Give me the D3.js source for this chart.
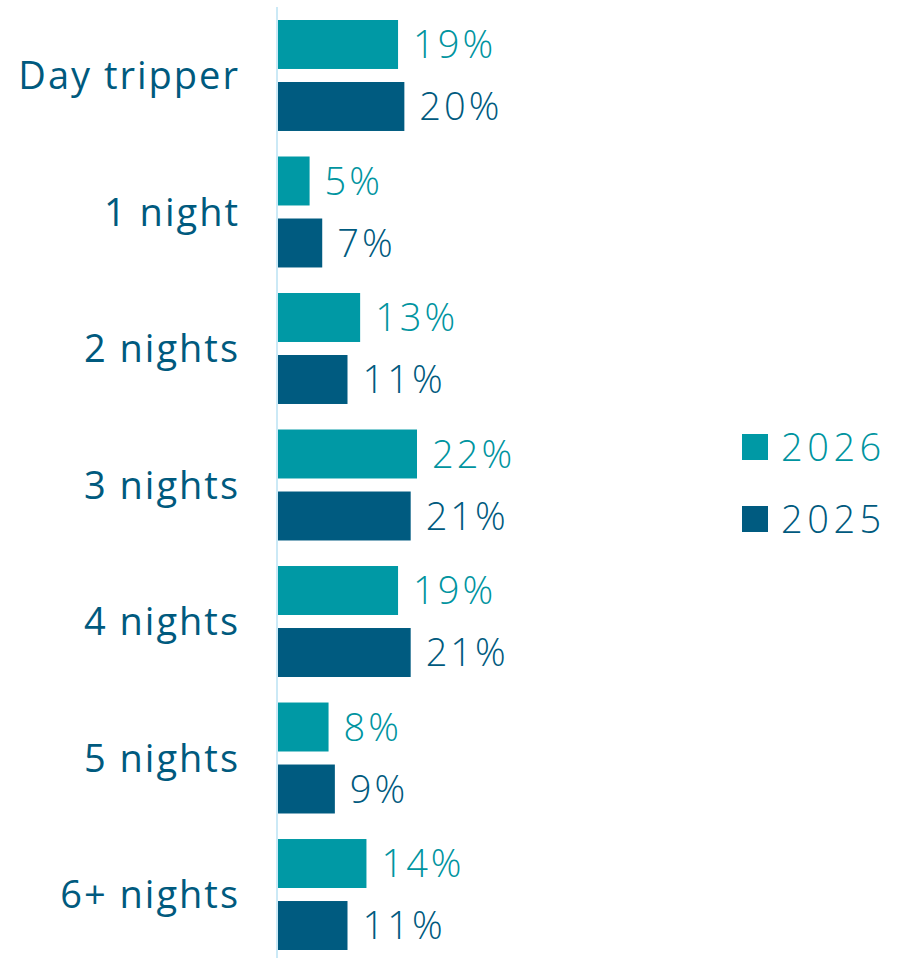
<!DOCTYPE html>
<html><head><meta charset="utf-8">
<script src="https://cdn.jsdelivr.net/npm/d3@7"></script>
<style>body{margin:0;background:#fff;} svg{display:block;}</style>
</head><body>
<svg id="chart" width="897" height="958"></svg>
<script>
const categories = ["Day tripper","1 night","2 nights","3 nights","4 nights","5 nights","6+ nights"];
const seriesNames = ["2026","2025"];
const values2026 = [19,5,13,22,19,8,14];
const values2025 = [20,7,11,21,21,9,11];
const colors = {"2026":"#0099a5","2025":"#005b80"};
const labelColors = {"2026":"#00949f","2025":"#005a7e"};
const FONT = "'Open Sans', Lato, sans-serif";

const svg = d3.select("#chart");
const x0 = 278;
const x = d3.scaleLinear().domain([0,22]).range([x0, x0+139]);
const y = d3.scaleBand().domain(categories).range([7.25, 962.75]).paddingInner(0.187).paddingOuter(0.0934);
const yi = d3.scaleBand().domain(seriesNames).range([0, y.bandwidth()]).paddingInner(0.21).paddingOuter(0);

const data = categories.map((c,i)=>({cat:c, vals:[{s:"2026",v:values2026[i]},{s:"2025",v:values2025[i]}]}));

const g = svg.selectAll("g.grp").data(data).join("g").attr("class","grp")
  .attr("transform", d=>`translate(0,${y(d.cat)})`);
g.selectAll("rect").data(d=>d.vals).join("rect")
  .attr("x", x(0)).attr("y", d=>yi(d.s)).attr("width", d=>x(d.v)-x(0)).attr("height", yi.bandwidth())
  .attr("fill", d=>colors[d.s]);
g.selectAll("text.val").data(d=>d.vals).join("text").attr("class","val")
  .attr("x", d=>x(d.v)+15).attr("y", d=>yi(d.s)+yi.bandwidth()/2)
  .attr("dy","0.36em").attr("font-family",FONT).attr("font-size",38).attr("font-weight",300)
  .attr("letter-spacing",3)
  .attr("fill", d=>labelColors[d.s]).text(d=>d.v+"%");

// axis
const axis = d3.axisLeft(y).tickSize(0).tickPadding(37);
const ax = svg.append("g").attr("transform",`translate(${x0-1},0)`).call(axis);
ax.select(".domain").attr("stroke","#cbe9f6").attr("stroke-width",2).attr("d","M0,7V958");
ax.selectAll(".tick text").attr("font-family",FONT).attr("font-size",38).attr("letter-spacing",2)
  .attr("fill","#005a7e").attr("dy","0.36em");

// legend
const leg = svg.append("g");
const legY = {"2026":434,"2025":506};
seriesNames.forEach(s=>{
  leg.append("rect").attr("x",742).attr("y",legY[s]).attr("width",26).attr("height",26).attr("fill",colors[s]);
  leg.append("text").attr("x",781).attr("y",legY[s]+13).attr("dy","0.36em")
    .attr("font-family",FONT).attr("font-size",38).attr("font-weight",300).attr("letter-spacing",4.5)
    .attr("fill",labelColors[s]).text(s);
});
</script>
</body></html>
